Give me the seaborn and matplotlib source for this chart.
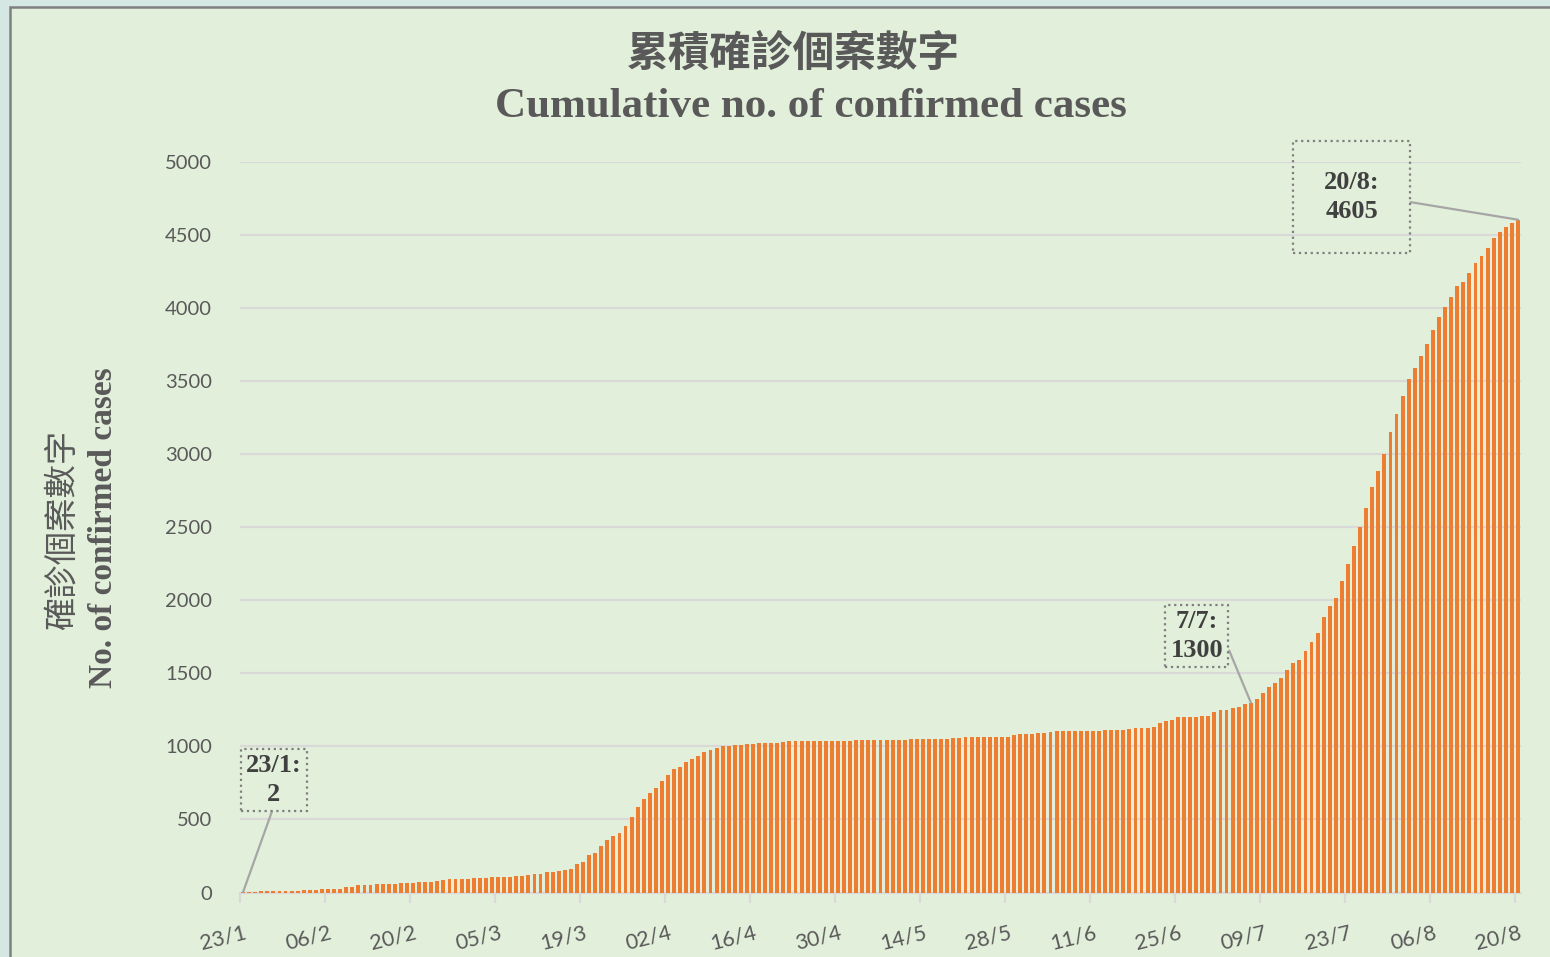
import pandas as pd
import matplotlib.pyplot as plt
import matplotlib.transforms as mtransforms
from matplotlib.patches import Rectangle
import seaborn as sns

# cumulative confirmed cases, one value per day (23/1 - 20/8)
jan_cases = [2, 2, 5, 8, 8, 8, 10, 10, 12]
feb_cases = [13, 15, 15, 17, 21, 24, 25, 26, 36, 38, 49, 50, 53, 56, 56, 57, 60,
             62, 65, 68, 69, 70, 74, 81, 85, 91, 93, 94, 95]
mar_cases = [100, 100, 101, 104, 105, 107, 109, 115, 115, 120, 126, 130, 137, 141,
             149, 157, 162, 193, 208, 256, 273, 317, 356, 386, 410, 453, 518, 582,
             641, 682, 715]
apr_cases = [765, 802, 845, 862, 890, 915, 935, 960, 973, 989, 1000, 1005, 1010,
             1012, 1017, 1017, 1022, 1024, 1026, 1026, 1029, 1035, 1036, 1036, 1037,
             1037, 1037, 1038, 1038, 1038]
may_cases = [1039, 1040, 1041, 1041, 1041, 1041, 1041, 1044, 1045, 1047, 1047, 1048,
             1050, 1051, 1051, 1052, 1053, 1053, 1055, 1055, 1062, 1065, 1065, 1065,
             1065, 1066, 1066, 1066, 1078, 1084, 1084]
jun_cases = [1085, 1091, 1092, 1098, 1104, 1105, 1105, 1106, 1106, 1106, 1106, 1107,
             1110, 1111, 1111, 1112, 1118, 1126, 1127, 1128, 1134, 1161, 1176, 1184,
             1198, 1199, 1200, 1201, 1206, 1208]
jul_cases = [1236, 1249, 1250, 1262, 1270, 1287, 1300, 1323, 1366, 1404, 1432, 1470,
             1522, 1570, 1589, 1655, 1713, 1777, 1885, 1958, 2019, 2132, 2250, 2372,
             2505, 2634, 2778, 2884, 3002, 3151, 3273]
aug_cases = [3397, 3512, 3589, 3669, 3754, 3849, 3938, 4007, 4076, 4148, 4181, 4243,
             4312, 4360, 4409, 4481, 4524, 4553, 4580, 4605]

tick_labels = ['23/1', '06/2', '20/2', '05/3', '19/3', '02/4', '16/4', '30/4',
               '14/5', '28/5', '11/6', '25/6', '09/7', '23/7', '06/8', '20/8']

callout_dates = ['2020-01-23', '2020-07-07', '2020-08-20']
callout_texts = ['23/1:\n2', '7/7:\n1300', '20/8:\n4605']

cases = jan_cases + feb_cases + mar_cases + apr_cases + may_cases + jun_cases + jul_cases + aug_cases
dates = pd.date_range('2020-01-23', '2020-08-20', freq='D')
df = pd.DataFrame({'date': dates.strftime('%Y-%m-%d'), 'cases': cases})

W, H = 1550, 957
fig = plt.figure(figsize=(W / 100, H / 100), dpi=100)
fig.patch.set_facecolor('#D5E7E2')
# chart area with its frame
fig.patches.append(Rectangle((10 / W, -0.02), 1.05, 1 - 7 / H + 0.02, transform=fig.transFigure,
                             facecolor='#E2EFDA', edgecolor='#7F7F7F', linewidth=1.8, zorder=-10))

ax = fig.add_axes([240 / W, (H - 892.5) / H, 1281 / W, 730.5 / H])
ax.set_facecolor('none')

sns.barplot(data=df, x='date', y='cases', color='#ED7D31', saturation=1,
            width=0.64, errorbar=None, ax=ax, zorder=3)

ax.set_xlim(-0.5, len(df) - 0.5)
ax.set_ylim(0, 5000)
ax.set_yticks(range(0, 5001, 500))
ax.grid(axis='y', color='#D9D9D9', linewidth=1.6, zorder=0)
ax.set_axisbelow(True)
for side in ['top', 'right', 'left']:
    ax.spines[side].set_visible(False)
ax.spines['bottom'].set_color('#D9D9D9')
ax.spines['bottom'].set_linewidth(1.6)

ax.set_xticks([k * 14 - 0.5 for k in range(len(tick_labels))])
ax.set_xticklabels(tick_labels)
ax.tick_params(axis='x', length=7, width=1.6, color='#D9D9D9', pad=15,
               labelsize=15.5, labelcolor='#595959')
ax.tick_params(axis='y', length=0, pad=20, labelsize=14.5, labelcolor='#595959')
shift = mtransforms.ScaledTranslation(4 / 100, 0, fig.dpi_scale_trans)
for lab in ax.get_xticklabels():
    lab.set_rotation(14)
    lab.set_ha('right')
    lab.set_va('top')
    lab.set_rotation_mode('anchor')
    lab.set_fontfamily('Lato')
    lab.set_transform(lab.get_transform() + shift)
for lab in ax.get_yticklabels():
    lab.set_fontfamily('Lato')
ax.set_xlabel('')
ax.set_ylabel('')

# titles
fig.text(793 / W, 1 - 54 / H, '累積確診個案數字', ha='center', va='center',
         fontfamily='Noto Sans CJK TC', fontweight='bold', fontsize=30, color='#595959')
fig.text(811 / W, 1 - 107 / H, 'Cumulative no. of confirmed cases', ha='center', va='center',
         fontfamily='Liberation Serif', fontweight='bold', fontsize=31, color='#595959')

# y axis title (two lines)
fig.text(62 / W, 1 - 530 / H, '確診個案數字', ha='center', va='center', rotation=90,
         fontfamily='Noto Sans CJK TC', fontsize=24, color='#595959')
fig.text(104 / W, 1 - 528 / H, 'No. of confirmed cases', ha='center', va='center', rotation=90,
         fontfamily='Liberation Serif', fontweight='bold', fontsize=24, color='#595959')

# data callouts
text_pos = [(5.1, 770), (157.1, 1756), (182.6, 4760)]
box_pad = [0.2, 0.2, 1.15]
line_from = [(0.5, 0), (1, 0.5), (1, 0.5)]
for d, txt, pos, pad, rel in zip(callout_dates, callout_texts, text_pos, box_pad, line_from):
    i = df.index[df['date'] == d][0]
    ax.annotate(txt, xy=(i, df.loc[i, 'cases']), xytext=pos, textcoords='data',
                ha='center', va='center', fontfamily='Liberation Serif', fontweight='bold',
                fontsize=19, color='#404040', linespacing=1.3, zorder=5,
                bbox=dict(boxstyle=f'square,pad={pad}', facecolor='none', edgecolor='#7F7F7F',
                          linestyle=':', linewidth=1.6),
                arrowprops=dict(arrowstyle='-', color='#A6A6A6', linewidth=1.6,
                                shrinkA=0, shrinkB=0, relpos=rel))

fig.savefig('out.png', dpi=100, facecolor=fig.get_facecolor())
